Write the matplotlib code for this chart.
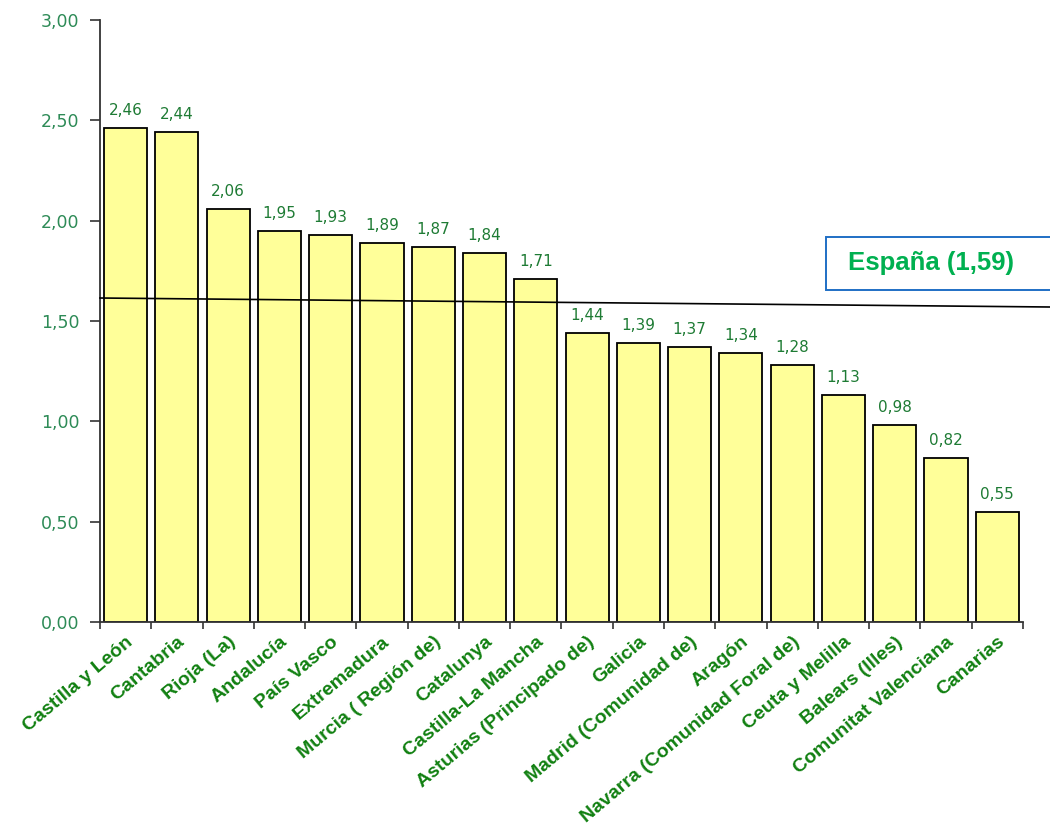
import matplotlib.pyplot as plt
from matplotlib.patches import Rectangle
from matplotlib.ticker import FuncFormatter

# Datos
regiones = ['Castilla y León', 'Cantabria', 'Rioja (La)', 'Andalucía', 'País Vasco',
            'Extremadura', 'Murcia ( Región de)', 'Catalunya', 'Castilla-La Mancha',
            'Asturias (Principado de)', 'Galicia', 'Madrid (Comunidad de)', 'Aragón',
            'Navarra (Comunidad Foral de)', 'Ceuta y Melilla', 'Balears (Illes)',
            'Comunitat Valenciana', 'Canarias']
valores = [2.46, 2.44, 2.06, 1.95, 1.93, 1.89, 1.87, 1.84, 1.71,
           1.44, 1.39, 1.37, 1.34, 1.28, 1.13, 0.98, 0.82, 0.55]
espana = 1.59

verde_ticks = '#2E8B57'
verde_etiq = '#1E7B34'
verde_x = '#118011'

fig = plt.figure(figsize=(10.5, 8.34), dpi=100)
ax = fig.add_axes([0.0952, 0.254, 0.879, 0.722])

x = list(range(len(regiones)))
ax.bar(x, valores, width=0.84, color='#FFFF99', edgecolor='black', linewidth=1.3, zorder=2)

# Etiquetas de valor
for xi, v in zip(x, valores):
    ax.text(xi, v + 0.05, f'{v:.2f}'.replace('.', ','), ha='center', va='bottom',
            fontsize=11, color=verde_etiq, family='DejaVu Sans')

# Línea de España (ligeramente inclinada como en el original)
ax.plot([-0.5, 18.1], [espana + 0.025, espana - 0.02], color='black', linewidth=1.2,
        clip_on=False, zorder=3)

# Cuadro de España (cortado por el borde derecho, como en el original)
fig.patches.append(Rectangle((0.7867, 0.6523), 0.25, 0.0636, transform=fig.transFigure,
                             facecolor='white', edgecolor='#1F6FC5', linewidth=1.4,
                             zorder=4))
fig.text(0.8076, 0.6841, f'España ({espana:.2f})'.replace('.', ','), ha='left', va='center',
         fontsize=18.5, fontweight='bold', color='#00B050', family='Liberation Sans', zorder=5)

# Ejes
ax.set_xlim(-0.5, len(regiones) - 0.5)
ax.set_ylim(0, 3)
ax.set_yticks([0, 0.5, 1.0, 1.5, 2.0, 2.5, 3.0])
ax.yaxis.set_major_formatter(FuncFormatter(lambda v, p: f'{v:.2f}'.replace('.', ',')))
ax.tick_params(axis='y', direction='out', length=7, width=1.2, colors='#333333',
               labelcolor=verde_ticks, labelsize=12.5, pad=8)

ax.set_xticks([i - 0.5 for i in range(len(regiones) + 1)])
ax.set_xticklabels([])
ax.set_xticks(x, minor=True)
ax.set_xticklabels(regiones, minor=True, rotation=40, ha='right', rotation_mode='anchor',
                   fontsize=14, fontweight='bold', color=verde_x, family='Liberation Sans')
ax.tick_params(axis='x', which='major', direction='out', length=5, width=1.2, colors='#333333')
ax.tick_params(axis='x', which='minor', length=0, pad=8)

for s in ['top', 'right']:
    ax.spines[s].set_visible(False)
for s in ['left', 'bottom']:
    ax.spines[s].set_color('#333333')
    ax.spines[s].set_linewidth(1.3)

plt.savefig('out.png', dpi=100)
